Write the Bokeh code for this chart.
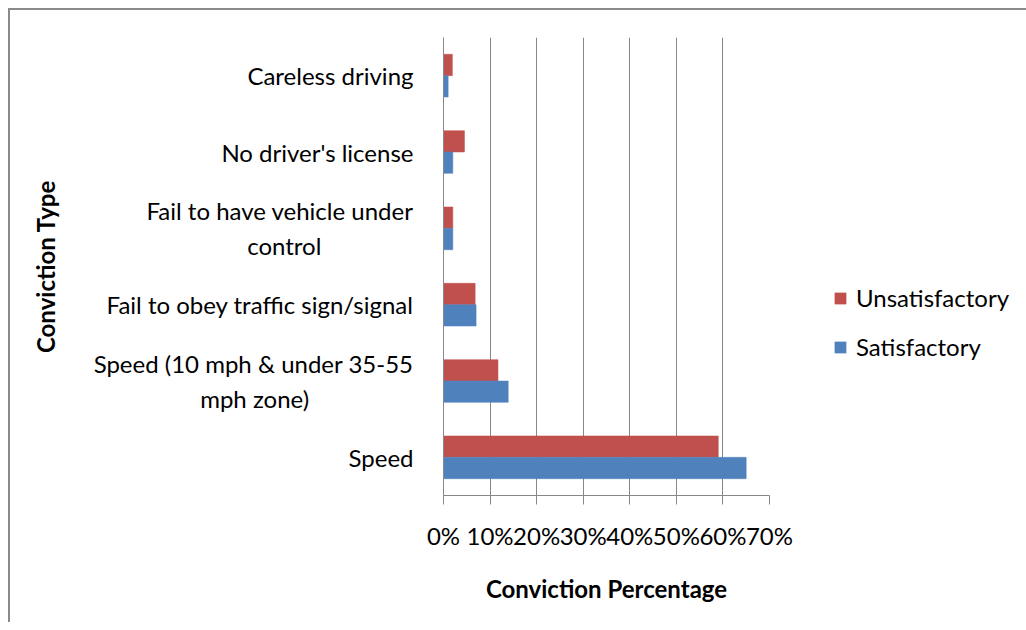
from bokeh.plotting import figure
from bokeh.models import FactorRange, Range1d, FixedTicker, PrintfTickFormatter, Legend, LegendItem
from bokeh.transform import dodge
from bokeh.models import ColumnDataSource
from bokeh.embed import file_html
from bokeh.resources import INLINE

NB = "\u00a0"
categories = [
    "Speed",
    "Speed (10 mph & under 35-55\nmph zone)" + NB * 17,
    "Fail to obey traffic sign/signal",
    "Fail to have vehicle under\ncontrol" + NB * 15,
    "No driver's license",
    "Careless driving",
]
unsatisfactory = [59, 11.7, 6.8, 2, 4.5, 1.9]
satisfactory = [65, 13.9, 7, 2, 2, 1]
x_ticks = [0, 10, 20, 30, 40, 50, 60, 70]

FONT = "Lato"
FS = "24px"
RED = "#C0504D"
BLUE = "#4F81BD"
GRID = "#878787"

src = ColumnDataSource(dict(cat=categories, uns=unsatisfactory, sat=satisfactory))

p = figure(
    frame_width=326, frame_height=458,
    y_range=FactorRange(factors=categories, range_padding=0),
    x_range=Range1d(0, 70),
    output_backend="svg", toolbar_location=None,
    min_border_left=433, min_border_right=249, min_border_top=27, min_border_bottom=127,
    styles={"margin-left": "8px", "margin-top": "8px",
            "border-left": "2px solid #8a8a8a", "border-top": "2px solid #8a8a8a"},
)
p.outline_line_color = None

r_uns = p.hbar(y=dodge("cat", 0.14, range=p.y_range), right="uns", left=0, height=0.28,
               source=src, fill_color=RED, line_color=RED, line_width=0.5)
r_sat = p.hbar(y=dodge("cat", -0.14, range=p.y_range), right="sat", left=0, height=0.28,
               source=src, fill_color=BLUE, line_color=BLUE, line_width=0.5)

# x axis
xa = p.xaxis[0]
xa.ticker = FixedTicker(ticks=x_ticks)
xa.formatter = PrintfTickFormatter(format="%d%%")
xa.axis_line_color = GRID
xa.major_tick_line_color = GRID
xa.major_tick_out = 9
xa.major_tick_in = 0
xa.minor_tick_line_color = None
xa.major_label_text_font = FONT
xa.major_label_text_font_size = FS
xa.major_label_text_color = "#000000"
xa.major_label_standoff = 16
xa.axis_label = "Conviction Percentage"
xa.axis_label_text_font = FONT
xa.axis_label_text_font_style = "bold"
xa.axis_label_text_font_size = FS
xa.axis_label_text_color = "#000000"
xa.axis_label_standoff = 21

# y axis
ya = p.yaxis[0]
ya.axis_line_color = GRID
ya.major_tick_line_color = None
ya.minor_tick_line_color = None
ya.major_label_text_font = FONT
ya.major_label_text_font_size = FS
ya.major_label_text_color = "#000000"
ya.major_label_standoff = 24
ya.axis_label = "Conviction Type"
ya.axis_label_text_font = FONT
ya.axis_label_text_font_style = "bold"
ya.axis_label_text_font_size = FS
ya.axis_label_text_color = "#000000"
ya.axis_label_standoff = 31

p.xgrid.grid_line_color = GRID
p.xgrid.grid_line_width = 1
p.ygrid.grid_line_color = None

legend = Legend(
    items=[LegendItem(label="Unsatisfactory", renderers=[r_uns]),
           LegendItem(label="Satisfactory", renderers=[r_sat])],
    location=(64, 134),
    label_text_font=FONT, label_text_font_size=FS, label_text_color="#000000",
    glyph_width=14, glyph_height=14, label_height=24, label_standoff=9,
    spacing=20, padding=0, margin=0,
    border_line_color=None, background_fill_alpha=0,
)
p.add_layout(legend, "right")

open("out.html", "w").write(file_html(p, INLINE))
